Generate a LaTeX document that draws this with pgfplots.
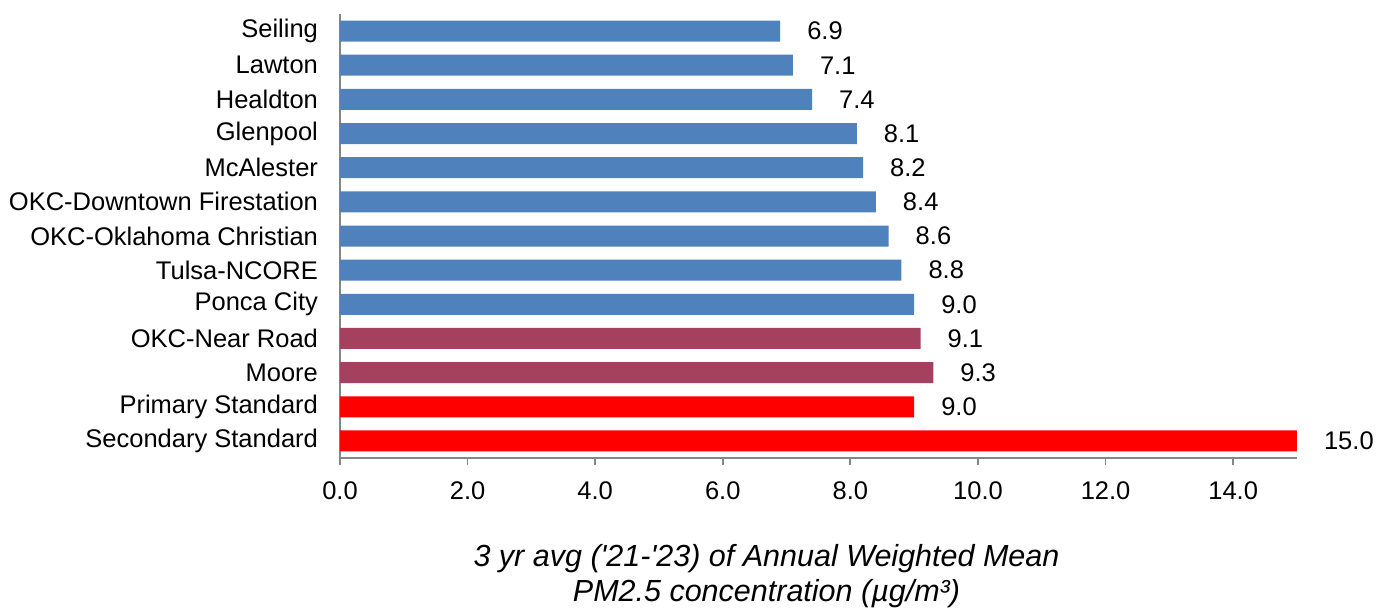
\documentclass[border=0pt]{standalone}
\usepackage{fontspec}
\setmainfont{Liberation Sans}
\usepackage{pgfplots}
\pgfplotsset{compat=1.18}
\pgfkeys{/pgf/number format/assume math mode=true}

\definecolor{barblue}{HTML}{4F81BD}
\definecolor{barmaroon}{HTML}{A5405E}
\definecolor{barred}{HTML}{FF0000}
\definecolor{axgray}{HTML}{868686}

\begin{document}
\begin{tikzpicture}
\begin{axis}[
  scale only axis,
  width=478.5pt, height=222pt,
  xmin=0, xmax=15,
  ymin=-0.5, ymax=12.5,
  xbar, bar width=10.5pt, bar shift=0pt,
  axis x line*=bottom, axis y line*=left,
  axis line style={axgray, line width=0.9pt},
  tick style={axgray, line width=0.9pt},
  tick align=outside,
  major tick length=3.5pt,
  xtick={0,2,...,14},
  ytick={0,...,12},
  ytick style={draw=none},
  minor ytick={-0.5,0.5,...,12.5},
  minor tick length=3.2pt,
  minor tick style={axgray, line width=0.9pt},
  yticklabels={Secondary Standard, Primary Standard, Moore, OKC-Near Road,
    Ponca City, Tulsa-NCORE, OKC-Oklahoma Christian, OKC-Downtown Firestation,
    McAlester, Glenpool, Healdton, Lawton, Seiling},
  ticklabel style={font=\fontsize{12.75}{15}\selectfont},
  yticklabel style={xshift=-4pt},
  xticklabel style={yshift=-5pt, /pgf/number format/.cd, fixed, fixed zerofill, precision=1},
  nodes near coords,
  nodes near coords style={font=\fontsize{12.75}{15}\selectfont, anchor=west, xshift=10pt,
    /pgf/number format/.cd, fixed, fixed zerofill, precision=1},
  xlabel={\itshape 3 yr avg (\textquotesingle21-\textquotesingle23) of Annual Weighted Mean\\\itshape PM2.5 concentration (µg/m³)},
  xlabel style={font=\fontsize{15.25}{17.5}\selectfont, align=center, anchor=north,
    at={(axis description cs:0.5,0)}, yshift=-39.5pt, xshift=-26pt},
  clip=false,
]
\addplot[fill=barblue, draw=none] coordinates {
  (6.9,12) (7.1,11) (7.4,10) (8.1,9) (8.2,8) (8.4,7) (8.6,6) (8.8,5) (9.0,4)
};
\addplot[fill=barmaroon, draw=none] coordinates {
  (9.1,3) (9.3,2)
};
\addplot[fill=barred, draw=none] coordinates {
  (9.0,1) (15.0,0)
};
\end{axis}
\pgfresetboundingbox
\path ([xshift=-170pt,yshift=-74.5pt]current axis.south west) rectangle ([xshift=45.5pt,yshift=7pt]current axis.north east);
\end{tikzpicture}
\end{document}
